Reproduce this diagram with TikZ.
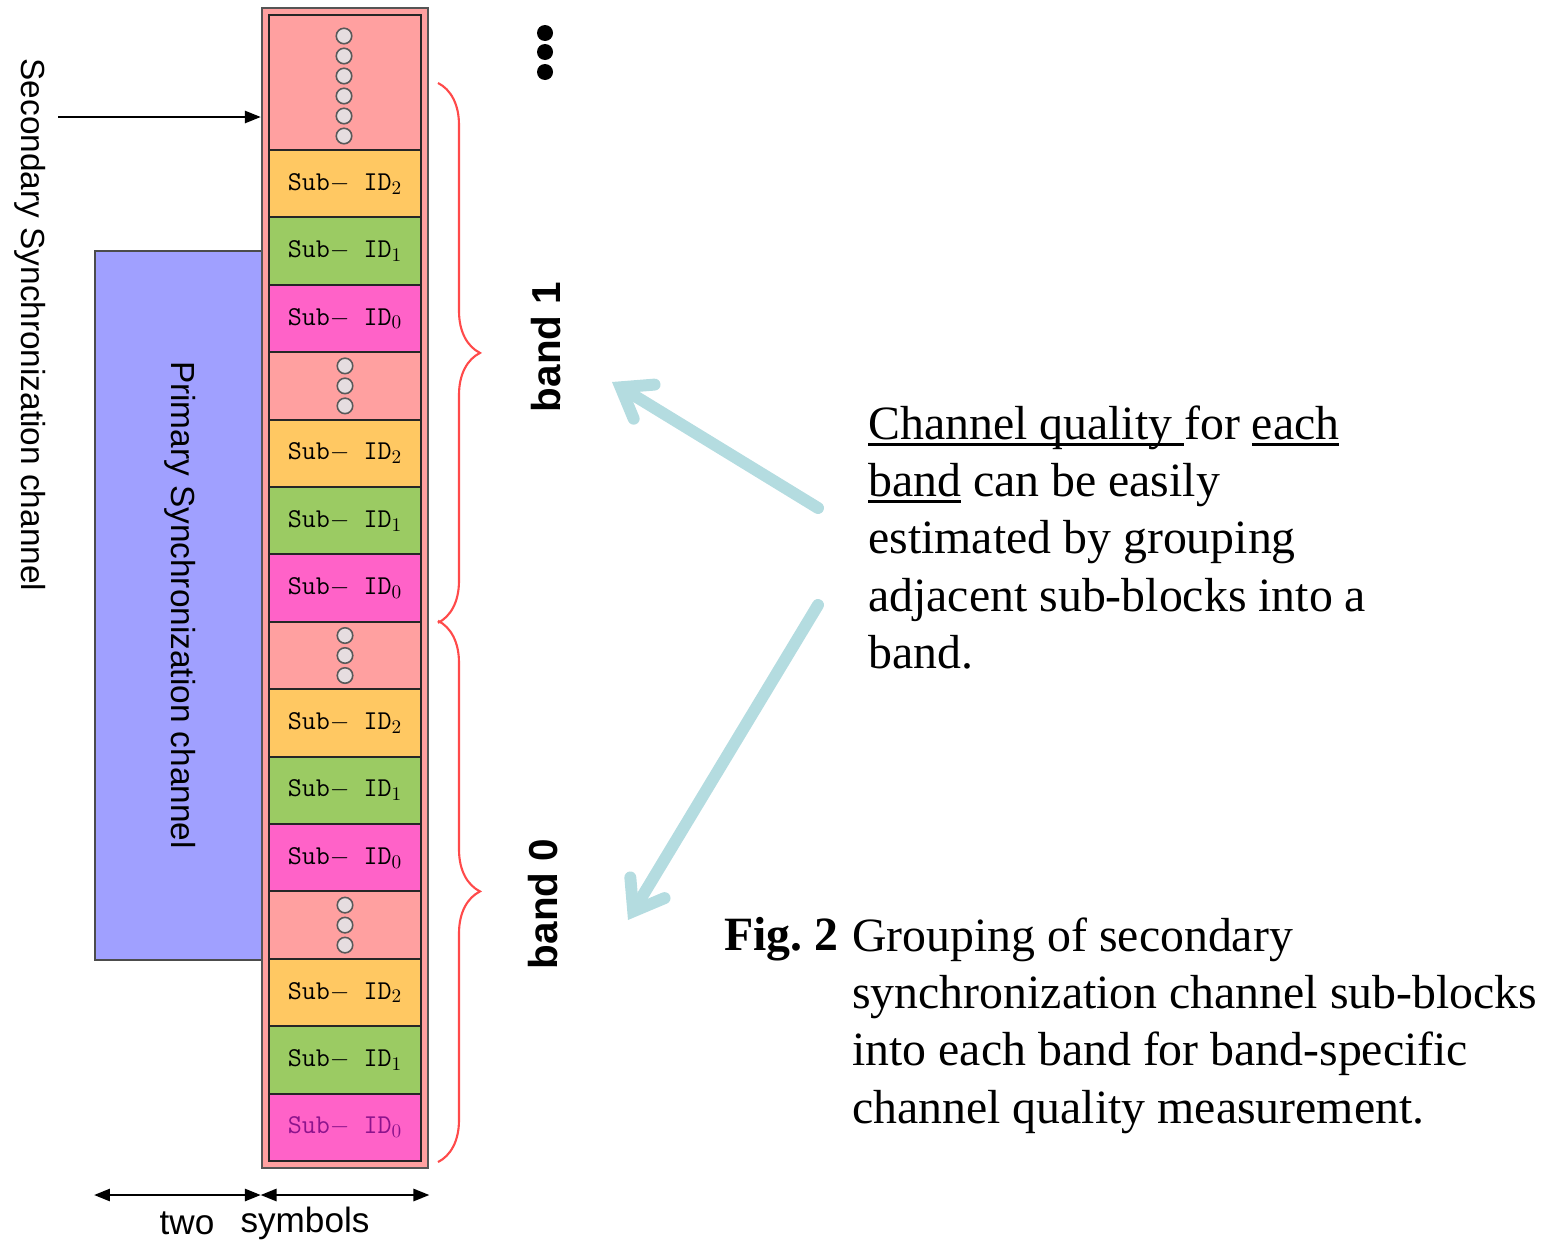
\documentclass[tikz,border=0pt]{standalone}
\usepackage{fontspec}
\setmainfont{Liberation Serif}
\setsansfont{Liberation Sans}
\usetikzlibrary{arrows.meta, decorations.pathreplacing, positioning}

\definecolor{blockpink}{HTML}{FFA0A0}
\definecolor{idtwo}{HTML}{FFC862}
\definecolor{idone}{HTML}{9BCB63}
\definecolor{idzero}{HTML}{FF62C8}
\definecolor{idink}{HTML}{8C148C}
\definecolor{primblue}{HTML}{A0A0FF}
\definecolor{hintcyan}{HTML}{B4DCE0}
\definecolor{bracered}{HTML}{FF4A4A}
\definecolor{framegray}{HTML}{555555}
\definecolor{ringfill}{HTML}{E6DDE0}

% flat underline just below the baseline, through the descenders
\newcommand{\bandul}[1]{\setbox0\hbox{#1}\rlap{\vrule width\wd0 height -2.2pt depth 4pt}\box0\relax}

\tikzset{
    cell/.style = {draw=black!85, line width=1.2pt, minimum width=3.04cm, minimum height=1.348cm,
                   inner sep=0pt, font=\ttfamily\fontsize{15.5}{15.5}\selectfont},
    ring/.style = {draw=black!65, fill=ringfill, line width=0.9pt},
    sidelabel/.style = {font=\sffamily\fontsize{19}{19}\selectfont, rotate=-90, inner sep=0pt},
    bandlabel/.style = {font=\sffamily\bfseries\fontsize{23}{23}\selectfont, rotate=90, inner sep=0pt},
    bandbrace/.style = {draw=bracered, line width=1.2pt, decorate, decoration={brace, amplitude=0.84cm}},
    hint/.style = {draw=hintcyan, line width=6.8pt, line cap=round,
                   -{Straight Barb[length=0.55cm, width=0.8cm, line cap=round]}},
    span/.style = {line width=1pt, {Triangle[length=9pt, width=7pt]}-{Triangle[length=9pt, width=7pt]}},
    prose/.style = {font=\fontsize{27.2}{32.7}\selectfont, inner sep=0pt, align=left},
}

\begin{document}
\begin{tikzpicture}[x=0.02cm, y=-0.02cm]
        \useasboundingbox (0,0) rectangle (1548,1241);
        % primary channel block and the secondary column frame
        \node[draw=black!70, line width=1pt, fill=primblue, minimum width=3.34cm, minimum height=14.18cm, inner sep=0pt] (prim) at (178.5,605.5) {};
        \node[sidelabel] (primtext) at (180,605) {Primary Synchronization channel};
        \node[draw=framegray, line width=1.5pt, fill=blockpink, minimum width=3.32cm, minimum height=23.2cm, inner sep=0pt] (col) at (345,588) {};
        % top cell with the open circles
        \node[cell, fill=blockpink, minimum height=2.7cm] (ctop) at (345,82.5) {};
        \foreach \k in {0,...,5}{
            \draw[ring] (344,36+20*\k) circle (0.155cm);
        }
        % sub-blocks: ID2, ID1, ID0, then a gap cell
        \foreach \i in {0,...,14}{
            \pgfmathtruncatemacro{\kind}{mod(\i,4)}
            \pgfmathsetmacro{\ymid}{183.7+67.4*\i}
            \ifcase\kind
                \node[cell, fill=idtwo] (c\i) at (345,\ymid) {Sub$-$ ID$_2$};
            \or
                \node[cell, fill=idone] (c\i) at (345,\ymid) {Sub$-$ ID$_1$};
            \or
                \ifnum\i=14 \def\ink{idink}\else \def\ink{black}\fi
                \node[cell, fill=idzero, text=\ink] (c\i) at (345,\ymid) {Sub$-$ ID$_0$};
            \or
                \node[cell, fill=blockpink] (c\i) at (345,\ymid) {};
                \foreach \k in {-1,0,1}{
                    \draw[ring] ([yshift=\k*0.4cm]c\i.center) circle (0.155cm);
                }
            \fi
        }
        % secondary channel label and pointer
        \node[sidelabel] (sectext) at (30,325) {Secondary Synchronization channel};
        \coordinate (secfoot) at (58,117);
        \draw[line width=1pt, -{Triangle[length=9pt, width=7pt]}] (secfoot) -- (secfoot -| col.west);
        % bands
        \coordinate (bandtop) at (438,83);
        \draw[bandbrace] (bandtop) -- (bandtop |- c6.south);
        \draw[bandbrace] (bandtop |- c7.north) -- (bandtop |- c14.south);
        \node[bandlabel] (bandone) at (546,347) {band 1};
        \node[bandlabel] (bandzero) at (543,904) {band 0};
        \foreach \y in {33,52,72}{
            \fill (545,\y) circle (0.16cm);
        }
        % symbol widths
        \coordinate (spanrow) at (0,1195);
        \draw[span] (prim.west |- spanrow) -- (col.west |- spanrow);
        \draw[span] (col.west |- spanrow) -- (col.east |- spanrow);
        \node[font=\sffamily\fontsize{20}{20}\selectfont] (two) at (187,1223) {two};
        \node[font=\sffamily\fontsize{20}{20}\selectfont] (symbols) at (305,1223) {symbols};
        % note with hint arrows
        \node[prose, anchor=north west] (note) at (868,405)
            {\bandul{Channel quality\ }for \bandul{each}\\
             \bandul{band} can be easily\\
             estimated by grouping\\
             adjacent sub-blocks into a\\
             band.};
        \coordinate (hintup) at (818,508);
        \coordinate (hintdown) at (818,605);
        \coordinate (bandonetip) at (612,382);
        \coordinate (bandzerotip) at (628,920);
        \draw[hint] (hintup) -- (bandonetip);
        \draw[hint] (hintdown) -- (bandzerotip);
        % caption
        \node[prose, anchor=base west] (figtag) at (724,950) {\textbf{Fig.\ 2}};
        \node[prose, anchor=north west] (figtext) at (852,917)
            {Grouping of secondary\\
             synchronization channel sub-blocks\\
             into each band for band-specific\\
             channel quality measurement.};
\end{tikzpicture}
\end{document}
